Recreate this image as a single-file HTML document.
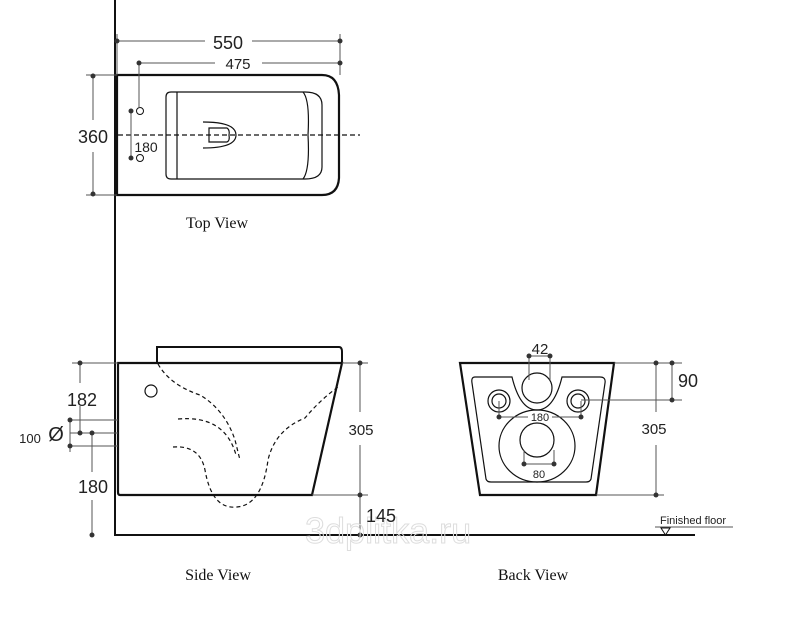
<!DOCTYPE html>
<html><head><meta charset="utf-8"><style>
html,body{margin:0;padding:0;background:#fff;}
svg{display:block}
.s{font-family:"Liberation Sans",sans-serif;fill:#222}
.r{font-family:"Liberation Serif",serif;fill:#111;font-size:16px}
</style></head><body>
<svg width="800" height="633" viewBox="0 0 800 633" xmlns="http://www.w3.org/2000/svg">
<rect width="800" height="633" fill="#fff"/>
<g stroke="#111" fill="none">
<line x1="115" y1="0" x2="115" y2="536" stroke-width="2"/>
<line x1="114" y1="535" x2="695" y2="535" stroke-width="2"/>
<!-- top view -->
<path d="M117 75 H322 Q338 75 339 95 V178 Q338 195 322 195 H117 Z" stroke-width="2.2"/>
<path d="M171 92 H305 Q322 92 322 105 V167 Q322 179 305 179 H171 Q166 179 166 174 V97 Q166 92 171 92 Z" stroke-width="1.2"/>
<line x1="177" y1="92" x2="177" y2="179" stroke-width="1.2"/>
<path d="M303 92 Q310 100 308 135 Q310 170 303 179" stroke-width="1.2"/>
<line x1="118" y1="135" x2="360" y2="135" stroke-dasharray="5,3" stroke-width="1.2"/>
<path d="M203 122 Q236 122 236 135 Q236 148 203 148" stroke-width="1.2"/>
<path d="M209 128 H227 Q230 130 229 135 Q230 141 227 142 H209 Z" stroke-width="1.2"/>
<circle cx="140" cy="111" r="3.5" stroke-width="1"/><circle cx="140" cy="158" r="3.5" stroke-width="1"/>
<g stroke="#555" stroke-width="1">
<line x1="117" y1="41" x2="205" y2="41"/><line x1="252" y1="41" x2="340" y2="41"/>
<line x1="117" y1="34" x2="117" y2="75"/><line x1="340" y1="34" x2="340" y2="75"/>
<line x1="139" y1="63" x2="215" y2="63"/><line x1="262" y1="63" x2="340" y2="63"/>
<line x1="139" y1="63" x2="139" y2="108"/>
<line x1="93" y1="75" x2="93" y2="120"/><line x1="93" y1="152" x2="93" y2="195"/>
<line x1="86" y1="75" x2="117" y2="75"/><line x1="86" y1="195" x2="117" y2="195"/>
<line x1="131" y1="111" x2="131" y2="158"/>
</g>
<!-- side view -->
<path d="M157 363 V347 H339 Q342 347 342 352 V363" stroke-width="2"/>
<path d="M118 363 H342 L312 495 H120 Q118 495 118 492 Z" stroke-width="2.2"/>
<circle cx="151" cy="391" r="6" stroke-width="1.2"/>
<g stroke-dasharray="4,3" stroke-width="1.2">
<path d="M158 364 Q170 385 200 395 Q225 410 235 440 L240 460"/>
<path d="M178 419 Q225 415 236 455"/>
<path d="M173 447 Q200 445 205 470 Q212 510 237 507 Q262 505 268 460 Q275 430 305 418 Q320 400 338 387"/>
</g>
<g stroke="#555" stroke-width="1">
<line x1="72" y1="363" x2="118" y2="363"/><line x1="80" y1="363" x2="80" y2="383"/>
<line x1="80" y1="406" x2="80" y2="433"/>
<line x1="70" y1="420" x2="118" y2="420"/><line x1="70" y1="433" x2="118" y2="433"/><line x1="70" y1="446" x2="118" y2="446"/>
<line x1="70" y1="420" x2="70" y2="452"/>
<line x1="92" y1="433" x2="92" y2="472"/><line x1="92" y1="500" x2="92" y2="535"/>
<line x1="342" y1="363" x2="368" y2="363"/><line x1="312" y1="495" x2="368" y2="495"/>
<line x1="360" y1="363" x2="360" y2="412"/><line x1="360" y1="445" x2="360" y2="535"/>
</g>
<!-- back view -->
<path d="M460 363 H614 L596 495 H480 Z" stroke-width="2.2"/>
<path d="M475 377 H512 Q520 410 537 410 Q554 410 562 377 H600 Q606 377 605 383 L591 479 Q590 482 586 482 H491 Q487 482 486 479 L472 383 Q471 377 475 377 Z" stroke-width="1.2"/>
<circle cx="537" cy="388" r="15" stroke-width="1.2"/>
<circle cx="499" cy="401" r="11" stroke-width="1.2"/><circle cx="499" cy="401" r="7" stroke-width="1.2"/>
<circle cx="578" cy="401" r="11" stroke-width="1.2"/><circle cx="578" cy="401" r="7" stroke-width="1.2"/>
<ellipse cx="537" cy="446" rx="38" ry="36" stroke-width="1.2"/>
<circle cx="537" cy="440" r="17" stroke-width="1.2"/>
<g stroke="#555" stroke-width="1">
<line x1="529" y1="356" x2="529" y2="380"/><line x1="550" y1="356" x2="550" y2="380"/><line x1="529" y1="356" x2="550" y2="356"/>
<line x1="499" y1="401" x2="499" y2="417"/><line x1="581" y1="401" x2="581" y2="417"/>
<line x1="499" y1="417" x2="528" y2="417"/><line x1="552" y1="417" x2="581" y2="417"/>
<line x1="524" y1="450" x2="524" y2="464"/><line x1="554" y1="450" x2="554" y2="464"/><line x1="524" y1="464" x2="554" y2="464"/>
<line x1="614" y1="363" x2="682" y2="363"/><line x1="581" y1="400" x2="682" y2="400"/>
<line x1="596" y1="495" x2="664" y2="495"/>
<line x1="672" y1="363" x2="672" y2="400"/>
<line x1="656" y1="363" x2="656" y2="412"/><line x1="656" y1="445" x2="656" y2="495"/>
<line x1="655" y1="527" x2="733" y2="527"/>
</g>
<path d="M661 528 L670 528 L665.5 535 Z" stroke-width="1"/>
</g>
<g fill="#333">
<circle cx="117" cy="41" r="2.5"/><circle cx="340" cy="41" r="2.5"/><circle cx="139" cy="63" r="2.5"/><circle cx="340" cy="63" r="2.5"/>
<circle cx="93" cy="76" r="2.5"/><circle cx="93" cy="194" r="2.5"/><circle cx="131" cy="111" r="2.5"/><circle cx="131" cy="158" r="2.5"/>
<circle cx="80" cy="363" r="2.5"/><circle cx="70" cy="420" r="2.5"/><circle cx="80" cy="433" r="2.5"/><circle cx="92" cy="433" r="2.5"/><circle cx="70" cy="446" r="2.5"/><circle cx="92" cy="535" r="2.5"/>
<circle cx="360" cy="363" r="2.5"/><circle cx="360" cy="495" r="2.5"/><circle cx="360" cy="535" r="2.5"/>
<circle cx="529" cy="356" r="2.5"/><circle cx="550" cy="356" r="2.5"/><circle cx="499" cy="417" r="2.5"/><circle cx="581" cy="417" r="2.5"/>
<circle cx="524" cy="464" r="2.5"/><circle cx="554" cy="464" r="2.5"/>
<circle cx="656" cy="363" r="2.5"/><circle cx="672" cy="363" r="2.5"/><circle cx="672" cy="400" r="2.5"/><circle cx="656" cy="495" r="2.5"/>
</g>
<text x="305" y="543" font-family="Liberation Sans,sans-serif" font-size="36" fill="none" stroke="#ddd" stroke-width="1">3dplitka.ru</text>
<text class="s" x="228" y="49" font-size="18" text-anchor="middle">550</text>
<text class="s" x="238" y="69" font-size="15" text-anchor="middle">475</text>
<text class="s" x="93" y="143" font-size="18" text-anchor="middle">360</text>
<text class="s" x="146" y="152" font-size="14" text-anchor="middle">180</text>
<text class="r" x="217" y="228" text-anchor="middle">Top View</text>
<text class="s" x="82" y="406" font-size="18" text-anchor="middle">182</text>
<text class="s" x="30" y="443" font-size="13" text-anchor="middle">100</text>
<text class="s" x="56" y="441" font-size="20" text-anchor="middle">Ø</text>
<text class="s" x="93" y="493" font-size="18" text-anchor="middle">180</text>
<text class="s" x="361" y="435" font-size="15" text-anchor="middle">305</text>
<text class="s" x="381" y="522" font-size="18" text-anchor="middle">145</text>
<text class="s" x="540" y="354" font-size="15" text-anchor="middle">42</text>
<text class="s" x="540" y="421" font-size="11" text-anchor="middle">180</text>
<text class="s" x="539" y="478" font-size="11" text-anchor="middle">80</text>
<text class="s" x="688" y="387" font-size="18" text-anchor="middle">90</text>
<text class="s" x="654" y="434" font-size="15" text-anchor="middle">305</text>
<text class="s" x="660" y="524" font-size="11">Finished floor</text>
<text class="r" x="218" y="580" text-anchor="middle">Side View</text>
<text class="r" x="533" y="580" text-anchor="middle">Back View</text>
</svg>
</body></html>
